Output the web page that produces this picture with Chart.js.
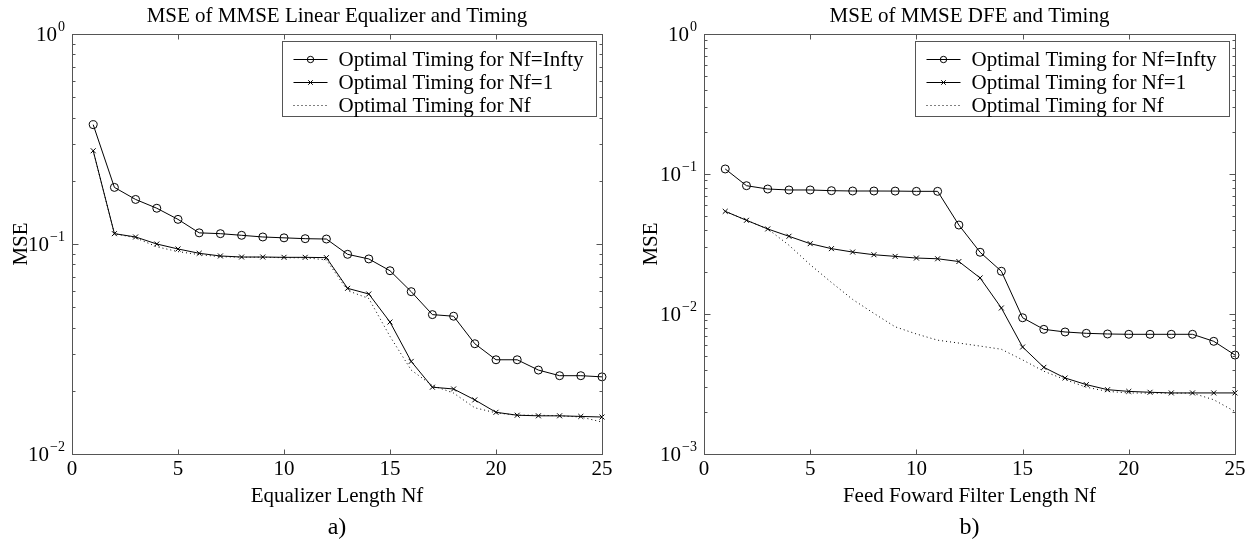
<!DOCTYPE html>
<html><head><meta charset="utf-8">
<script src="https://cdn.jsdelivr.net/npm/chart.js@4.4.1/dist/chart.umd.min.js"></script>
<style>
html,body{margin:0;padding:0;background:#fff;}
#wrap{position:relative;width:1260px;height:544px;overflow:hidden;}
.c{position:absolute;top:0;width:630px;height:544px;}
</style></head><body>
<div id="wrap">
<div class="c" style="left:0"><canvas id="cA"></canvas></div>
<div class="c" style="left:630px"><canvas id="cB"></canvas></div>
</div>
<script>
// ---- data ----
const nfValues = [1,2,3,4,5,6,7,8,9,10,11,12,13,14,15,16,17,18,19,20,21,22,23,24,25];
const xTickValues = [0,5,10,15,20,25];
const seriesLabels = ['Optimal Timing for Nf=Infty','Optimal Timing for Nf=1','Optimal Timing for Nf'];

// a) MMSE linear equalizer
const leInfty = [0.370,0.186,0.163,0.148,0.131,0.113,0.112,0.110,0.108,0.107,0.106,0.1056,0.0893,0.0849,0.0746,0.0593,0.0461,0.0453,0.0335,0.0281,0.0281,0.0251,0.0236,0.0236,0.0233];
const leOne   = [0.278,0.112,0.108,0.100,0.0947,0.0903,0.0877,0.0867,0.0867,0.0864,0.0864,0.0861,0.0615,0.0578,0.0425,0.0276,0.0208,0.0204,0.0181,0.0158,0.0153,0.0152,0.0152,0.0151,0.0150];
const leOpt   = [0.278,0.112,0.107,0.097,0.092,0.089,0.087,0.0865,0.0865,0.086,0.086,0.084,0.060,0.055,0.0363,0.0251,0.0212,0.0195,0.0166,0.0157,0.0153,0.0153,0.0152,0.0150,0.0142];

// b) MMSE DFE
const dfeInfty = [0.1086,0.0825,0.0781,0.0769,0.0769,0.0760,0.0756,0.0756,0.0755,0.0752,0.0752,0.0432,0.0276,0.0202,0.0094,0.00777,0.00744,0.00728,0.00720,0.00716,0.00716,0.00716,0.00716,0.00638,0.00509];
const dfeOne   = [0.0541,0.0467,0.0405,0.0359,0.0318,0.0293,0.0277,0.0265,0.0258,0.0251,0.0248,0.0237,0.0181,0.01104,0.00581,0.00416,0.00349,0.00313,0.00288,0.00280,0.00276,0.00273,0.00273,0.00273,0.00273];
const dfeOpt   = [0.0541,0.0467,0.0405,0.031,0.0225,0.0168,0.0127,0.0101,0.0081,0.0072,0.0065,0.0062,0.0059,0.0056,0.0047,0.0039,0.0034,0.0030,0.0028,0.00273,0.00272,0.00272,0.00272,0.00244,0.00201];

// ---- drawing ----
const FONT = "'Liberation Serif', 'Times New Roman', serif";
const AXIS_COLOR = '#555';

function pts(vals){ return nfValues.map((n,i)=>({x:n,y:vals[i]})); }

function drawMarker(ctx, style, x, y, r){
  ctx.beginPath();
  if (style === 'circle') { ctx.arc(x, y, r, 0, Math.PI*2); }
  else if (style === 'crossRot') {
    const d = r*Math.SQRT1_2;
    ctx.moveTo(x-d,y-d); ctx.lineTo(x+d,y+d); ctx.moveTo(x-d,y+d); ctx.lineTo(x+d,y-d);
  }
  ctx.stroke();
}

const matlabFrame = {
  id: 'matlabFrame',
  afterDraw(chart, args, o) {
    const {ctx, chartArea: ca, scales: {x, y}} = chart;
    const L = Math.round(ca.left)+0.5, R = Math.round(ca.right)+0.5, T = Math.round(ca.top)+0.5, B = Math.round(ca.bottom)+0.5;
    ctx.save();
    ctx.strokeStyle = AXIS_COLOR; ctx.lineWidth = 1;
    ctx.strokeRect(L, T, R-L, B-T);
    ctx.beginPath();
    xTickValues.forEach(v => {
      const px = Math.round(x.getPixelForValue(v))+0.5;
      ctx.moveTo(px,B); ctx.lineTo(px,B-5); ctx.moveTo(px,T); ctx.lineTo(px,T+5);
    });
    const lo = Math.round(Math.log10(y.min)), hi = Math.round(Math.log10(y.max));
    for (let e=lo; e<hi; e++) for (let m=2; m<=9; m++) {
      const py = Math.round(y.getPixelForValue(m*Math.pow(10,e)))+0.5;
      ctx.moveTo(L,py); ctx.lineTo(L+3,py); ctx.moveTo(R,py); ctx.lineTo(R-3,py);
    }
    for (let e=lo; e<=hi; e++) {
      const py = Math.round(y.getPixelForValue(Math.pow(10,e)))+0.5;
      ctx.moveTo(L,py); ctx.lineTo(L+6,py); ctx.moveTo(R,py); ctx.lineTo(R-6,py);
    }
    ctx.stroke();

    // y tick labels 10^e
    ctx.fillStyle = '#000';
    for (let e=lo; e<=hi; e++) {
      const py = y.getPixelForValue(Math.pow(10,e));
      const exp = e === 0 ? '0' : '\u2212' + Math.abs(e);
      ctx.font = '14px ' + FONT;
      const ew = ctx.measureText(exp).width;
      ctx.textAlign = 'left'; ctx.textBaseline = 'alphabetic';
      const expX = ca.left - 7 - ew;
      ctx.fillText(exp, expX, py - 3);
      ctx.font = '21px ' + FONT;
      ctx.textAlign = 'right'; ctx.textBaseline = 'middle';
      ctx.fillText('10', expX - 1, py + 1);
    }

    // title
    const cx = (ca.left + ca.right)/2;
    ctx.font = '21px ' + FONT; ctx.textAlign = 'center'; ctx.textBaseline = 'alphabetic';
    ctx.fillText(o.title, cx, 22);
    // x label
    ctx.textBaseline = 'middle';
    ctx.fillText(o.xlabel, cx, 496);
    // sub label
    ctx.font = '24px ' + FONT;
    ctx.fillText(o.sub, cx, 528);
    // y label
    ctx.save();
    ctx.translate(21, (ca.top+ca.bottom)/2);
    ctx.rotate(-Math.PI/2);
    ctx.font = '21px ' + FONT; ctx.textAlign='center'; ctx.textBaseline='middle';
    ctx.fillText('MSE', 0, 0);
    ctx.restore();

    // legend
    const bw = 314, bh = 75;
    const bx = Math.round(ca.right - 6 - bw) + 0.5, by = Math.round(ca.top + 7) + 0.5;
    ctx.fillStyle = '#fff'; ctx.fillRect(bx, by, bw, bh);
    ctx.strokeStyle = AXIS_COLOR; ctx.strokeRect(bx, by, bw, bh);
    chart.data.datasets.forEach((ds, i) => {
      const ry = Math.round(by + 17 + i*23) + 0.5;
      ctx.strokeStyle = '#000'; ctx.lineWidth = 1;
      ctx.setLineDash(ds.borderDash || []);
      ctx.beginPath(); ctx.moveTo(bx+11, ry); ctx.lineTo(bx+45, ry); ctx.stroke();
      ctx.setLineDash([]);
      if (ds.pointRadius > 0) drawMarker(ctx, ds.pointStyle, bx+28, ry, ds.pointStyle==='circle'?3.2:3.2);
      ctx.fillStyle = '#000'; ctx.font = '21px ' + FONT; ctx.textAlign = 'left'; ctx.textBaseline = 'middle';
      ctx.fillText(ds.label, bx+56, ry+1);
    });
    ctx.restore();
  }
};

function makeChart(id, infty, one, opt, yMin, yAxisWidth, padRight, texts){
  const common = {borderColor:'#000', borderWidth:1, tension:0, fill:false, clip:false,
    pointBorderColor:'#000', pointBackgroundColor:'rgba(0,0,0,0)', pointBorderWidth:1};
  return new Chart(document.getElementById(id), {
    type: 'line',
    data: { datasets: [
      Object.assign({label: seriesLabels[0], data: pts(infty), pointStyle:'circle', pointRadius:4}, common),
      Object.assign({label: seriesLabels[1], data: pts(one), pointStyle:'crossRot', pointRadius:3.5}, common),
      Object.assign({label: seriesLabels[2], data: pts(opt), pointRadius:0, borderDash:[1,3]}, common)
    ]},
    options: {
      responsive: true, maintainAspectRatio: false, animation: false,
      layout: { padding: { left: 0, top: 34, right: padRight, bottom: 0 } },
      plugins: { legend: { display: false }, tooltip: { enabled: false }, matlabFrame: texts },
      scales: {
        x: { type: 'linear', min: 0, max: 25,
             ticks: { stepSize: 5, color: '#000', font: { family: FONT, size: 21 }, padding: 3, maxRotation: 0 },
             grid: { display: false, drawTicks: false }, border: { display: false },
             afterFit(s){ s.height = 90; } },
        y: { type: 'logarithmic', min: yMin, max: 1,
             ticks: { display: false },
             grid: { display: false, drawTicks: false }, border: { display: false },
             afterFit(s){ s.width = yAxisWidth; } }
      }
    },
    plugins: [matlabFrame]
  });
}

makeChart('cA', leInfty, leOne, leOpt, 0.01, 72, 28,
  {title: 'MSE of MMSE Linear Equalizer and Timing', xlabel: 'Equalizer Length Nf', sub: 'a)'});
makeChart('cB', dfeInfty, dfeOne, dfeOpt, 0.001, 74, 25,
  {title: 'MSE of MMSE DFE and Timing', xlabel: 'Feed Foward Filter Length Nf', sub: 'b)'});
</script>
</body></html>
